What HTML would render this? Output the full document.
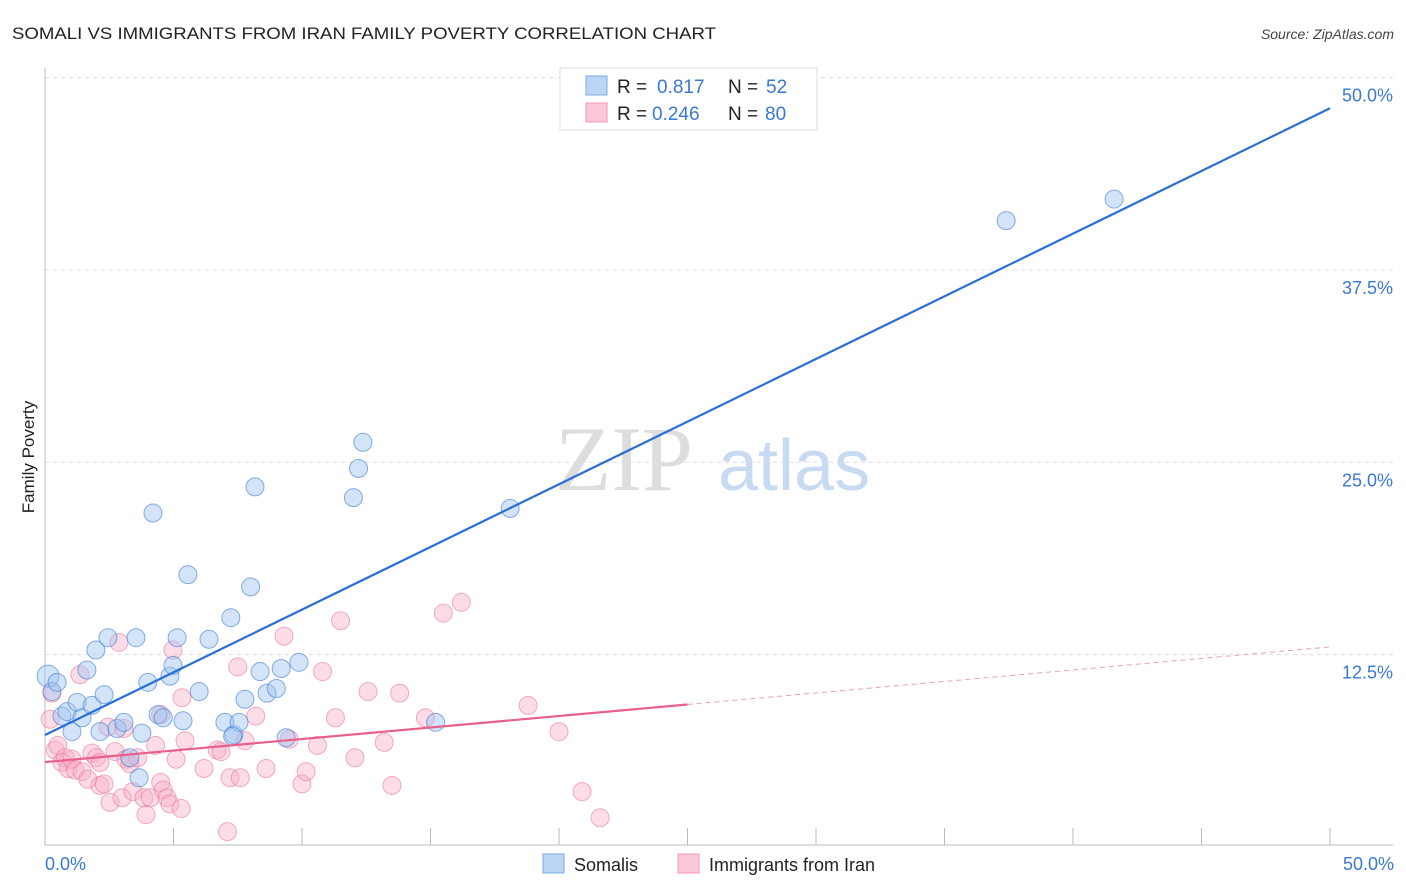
<!DOCTYPE html>
<html><head><meta charset="utf-8"><style>
body{margin:0;background:#fff;}
svg{display:block;font-family:"Liberation Sans",sans-serif;}
</style></head><body>
<svg id="chart" width="1406" height="892" viewBox="0 0 1406 892">
<text x="12" y="39" font-size="17" fill="#222" textLength="704" lengthAdjust="spacingAndGlyphs">SOMALI VS IMMIGRANTS FROM IRAN FAMILY POVERTY CORRELATION CHART</text>
<text x="1394" y="39" font-size="14" fill="#444" font-style="italic" text-anchor="end">Source: ZipAtlas.com</text>
<g>
<text x="555" y="490" font-size="92" font-family="Liberation Serif,serif" fill="#ddd">ZIP</text>
<text x="718" y="490" font-size="72" fill="#c8daf2">atlas</text>
</g>
<g id="grid"></g>
<g id="axes"></g>
<g id="trends"></g>
<g id="points"></g>
<text transform="translate(34,457) rotate(-90)" font-size="17" fill="#222" text-anchor="middle">Family Poverty</text>
<text x="45" y="870" font-size="18" fill="#3a78d4">0.0%</text>
<text x="1394" y="870" font-size="18" fill="#3a78d4" text-anchor="end">50.0%</text>
<g>
<rect x="560" y="68" width="257" height="62" fill="#fff" stroke="#ddd"/>
<rect x="586" y="76" width="21" height="19" fill="#bcd5f5" stroke="#7aaae8"/>
<rect x="586" y="103" width="21" height="19" fill="#fbc8d8" stroke="#f09ab5"/>
<text x="617" y="93" font-size="19" fill="#222">R = </text><text x="657" y="93" font-size="19" fill="#3a78d4">0.817</text>
<text x="728" y="93" font-size="19" fill="#222">N = </text><text x="766" y="93" font-size="19" fill="#3a78d4">52</text>
<text x="617" y="120" font-size="19" fill="#222">R = </text><text x="652" y="120" font-size="19" fill="#3a78d4">0.246</text>
<text x="728" y="120" font-size="19" fill="#222">N = </text><text x="765" y="120" font-size="19" fill="#3a78d4">80</text>
</g>
<g>
<rect x="543" y="854" width="21" height="19" fill="#bcd5f5" stroke="#7aaae8"/>
<text x="574" y="871" font-size="18" fill="#222">Somalis</text>
<rect x="678" y="854" width="21" height="19" fill="#fbc8d8" stroke="#f09ab5"/>
<text x="709" y="871" font-size="18" fill="#222">Immigrants from Iran</text>
</g>
</svg>
<script>
const yTicks=[12.5,25,37.5,50];
const yTickLabels=["12.5%","25.0%","37.5%","50.0%"];
const xTicks=[5,10,15,20,25,30,35,40,45,50];
const somaliX=[0.12,0.27,0.47,0.66,0.86,1.05,1.25,1.44,1.63,1.83,1.98,2.14,2.3,2.45,2.8,3.07,3.3,3.54,3.66,3.77,4.0,4.2,4.4,4.6,4.86,4.98,5.14,5.37,5.56,6.0,6.38,7.0,7.23,7.35,7.55,7.78,8.0,8.17,8.37,8.64,9.0,9.19,9.38,9.88,12.0,12.2,12.37,15.2,18.1,37.4,41.6,7.3];
const somaliY=[11.1,10.1,10.7,8.5,8.8,7.5,9.4,8.4,11.5,9.2,12.8,7.5,9.9,13.6,7.7,8.1,5.8,13.6,4.5,7.4,10.7,21.7,8.6,8.4,11.1,11.8,13.6,8.2,17.7,10.1,13.5,8.1,14.9,7.3,8.1,9.6,16.9,23.4,11.4,10.0,10.3,11.6,7.1,12.0,22.7,24.6,26.3,8.1,22.0,40.7,42.1,7.2];
const iranX=[0.2,0.27,0.4,0.5,0.66,0.78,0.9,1.05,1.17,1.36,1.44,1.67,1.83,2.0,2.14,2.3,2.45,2.53,2.72,2.88,3.0,3.15,3.3,3.42,3.6,3.85,3.93,4.1,4.3,4.5,4.6,4.75,4.86,4.98,5.1,5.3,5.33,5.45,6.19,6.7,6.85,7.1,7.2,7.5,7.6,7.78,8.2,8.6,9.3,9.5,10.0,10.16,10.6,10.8,11.3,11.5,12.06,12.57,13.2,13.5,13.8,14.8,15.5,16.2,18.8,20.0,20.9,21.6,3.07,4.5,2.14];
const iranY=[8.3,10.0,6.3,6.6,5.5,5.8,5.1,5.7,5.0,11.2,4.9,4.4,6.1,5.8,4.0,4.1,7.8,2.9,6.2,13.3,3.2,5.7,5.4,3.6,5.8,3.2,2.1,3.2,6.6,4.2,3.7,3.2,2.8,12.8,5.7,2.5,9.7,6.9,5.1,6.3,6.2,1.0,4.5,11.7,4.5,6.9,8.5,5.1,13.7,7.0,4.1,4.9,6.6,11.4,8.4,14.7,5.8,10.1,6.8,4.0,10.0,8.4,15.2,15.9,9.2,7.5,3.6,1.9,7.7,8.6,5.5];
const blueTrend=[7.28,48.0];   // y at x=0 and x=50
const pinkTrend=[5.52,13.0];
const pinkSolidEnd=25;
const NS="http://www.w3.org/2000/svg";
function sx(v){return 45+v*25.7;}
function sy(v){return 847-v*15.39;}
function mk(tag,attrs,parent){const e=document.createElementNS(NS,tag);for(const k in attrs)e.setAttribute(k,attrs[k]);parent.appendChild(e);return e;}
const grid=document.getElementById('grid'),axes=document.getElementById('axes'),tr=document.getElementById('trends'),pts=document.getElementById('points');
yTicks.forEach((t,i)=>{
 const l=mk('line',{x1:45,x2:1393,y1:sy(t),y2:sy(t),stroke:'#ddd','stroke-dasharray':'4,4'},grid);
 
 
 const tx=mk('text',{x:1393,y:sy(t)+24,'font-size':18,fill:'#3a78d4','text-anchor':'end'},grid);
 tx.textContent=yTickLabels[i];
 
 
});
const ya=mk('line',{x1:45,x2:45,y1:68,y2:845,stroke:'#bbb'},axes);


const xa=mk('line',{x1:45,x2:1393,y1:845,y2:845,stroke:'#bbb'},axes);


xTicks.forEach(t=>{
 const l=mk('line',{x1:sx(t),x2:sx(t),y1:828,y2:845,stroke:'#bbb'},axes);
 
 
});
function trendY(tr,x){return tr[0]+(tr[1]-tr[0])*x/50;}
iranX.forEach((x,i)=>{
 const c=mk('circle',{cx:sx(x),cy:sy(iranY[i]),r:9,fill:'rgba(248,170,195,0.4)',stroke:'rgba(235,120,155,0.6)','stroke-width':1},pts);
 
 
});
somaliX.forEach((x,i)=>{
 const c=mk('circle',{cx:sx(x),cy:sy(somaliY[i]),r:i===0?11:9,fill:'rgba(160,195,240,0.45)',stroke:'rgba(60,120,210,0.6)','stroke-width':1},pts);
 
 
});
const bl=mk('line',{x1:sx(0),y1:sy(trendY(blueTrend,0)),x2:sx(50),y2:sy(trendY(blueTrend,50)),stroke:'#2a6fd6','stroke-width':2.2},tr);


const pl=mk('line',{x1:sx(0),y1:sy(trendY(pinkTrend,0)),x2:sx(pinkSolidEnd),y2:sy(trendY(pinkTrend,pinkSolidEnd)),stroke:'#e8608a','stroke-width':2.2},tr);


const pd=mk('line',{x1:sx(pinkSolidEnd),y1:sy(trendY(pinkTrend,pinkSolidEnd)),x2:sx(50),y2:sy(trendY(pinkTrend,50)),stroke:'#e8a0b8','stroke-width':1,'stroke-dasharray':'5,4'},tr);


tr.parentNode.appendChild(tr);
</script>
</body></html>
